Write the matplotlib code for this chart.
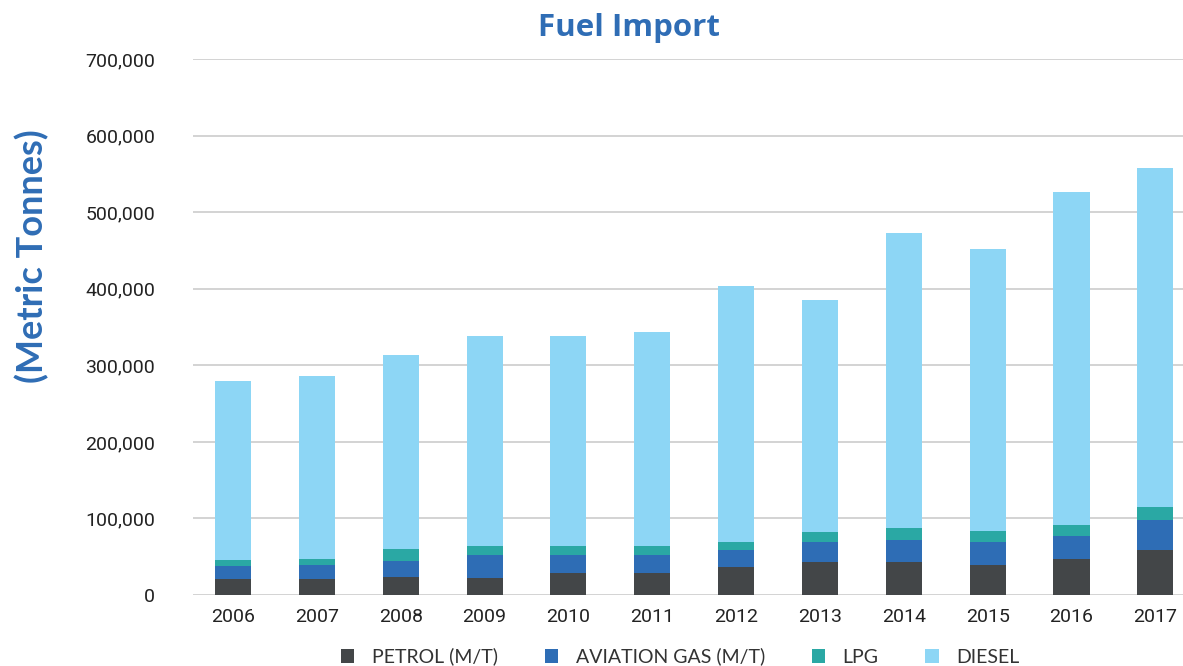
import matplotlib
matplotlib.use("Agg")
import matplotlib.pyplot as plt
import numpy as np
from matplotlib.ticker import FuncFormatter

years = ["2006", "2007", "2008", "2009", "2010", "2011",
         "2012", "2013", "2014", "2015", "2016", "2017"]
petrol = [21000, 21000, 23000, 22600, 28700, 28700, 37000, 43400, 43400, 39000, 47000, 58700]
aviation = [17000, 18500, 21000, 29400, 23300, 23300, 22000, 25300, 28600, 29700, 30000, 39300]
lpg = [8000, 7500, 16000, 11500, 11500, 11500, 9700, 13900, 15000, 14800, 15000, 17000]
diesel = [234000, 238600, 254000, 274500, 275500, 279500, 335300, 303400, 385500, 368500, 435000, 443000]

series_names = ["PETROL (M/T)", "AVIATION GAS (M/T)", "LPG", "DIESEL"]
colors = ["#434648", "#2e6db5", "#2aa8a4", "#8dd6f5"]

fig = plt.figure(figsize=(11.83, 6.66), dpi=100)
ax = fig.add_axes([0.163, 0.1066, 0.837, 0.8045])

x = np.arange(len(years))
bottom = np.zeros(len(years))
for vals, name, c in zip([petrol, aviation, lpg, diesel], series_names, colors):
    ax.bar(x, vals, width=0.43, bottom=bottom, color=c, label=name, zorder=3)
    bottom += np.array(vals)

ax.set_ylim(0, 700000)
ax.set_xlim(-0.48, 11.33)
ax.set_yticks(np.arange(0, 700001, 100000))
ax.yaxis.set_major_formatter(FuncFormatter(lambda v, p: f"{int(v):,}"))
ax.set_xticks(x)
ax.set_xticklabels(years)
ax.grid(axis="y", color="#cccccc", linewidth=1.2, zorder=0)
for s in ax.spines.values():
    s.set_visible(False)
ax.tick_params(axis="both", length=0, labelsize=14, colors="#222222")
ax.tick_params(axis="y", pad=27)
ax.tick_params(axis="x", pad=9)
for lab in ax.get_xticklabels() + ax.get_yticklabels():
    lab.set_fontfamily("Roboto")

fig.text(0.532, 0.958, "Fuel Import", ha="center", va="center",
         fontsize=22.5, fontweight="bold", color="#2f6db5", family="Open Sans")
fig.text(0.027, 0.616, "(Metric Tonnes)", ha="center", va="center", rotation=90,
         fontsize=26, fontweight="bold", color="#2f6db5", family="Lato")

handles, labels = ax.get_legend_handles_labels()
leg = fig.legend(handles, labels, loc="center", bbox_to_anchor=(0.575, 0.014), ncol=4,
                 frameon=False, handlelength=0.7, handleheight=0.7,
                 columnspacing=2.4, handletextpad=0.9,
                 prop={"family": "Lato", "size": 14})
for t in leg.get_texts():
    t.set_color("#333333")

fig.savefig("out.png", dpi=100)
